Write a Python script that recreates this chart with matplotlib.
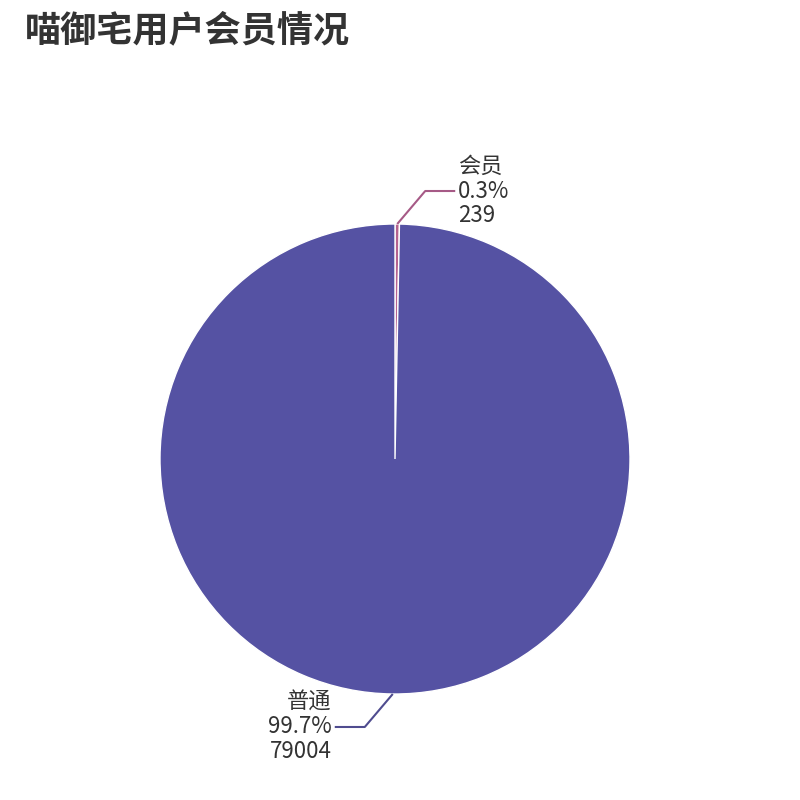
import numpy as np
import matplotlib
matplotlib.use('Agg')
import matplotlib.pyplot as plt

plt.rcParams['font.family'] = ['Noto Sans CJK SC', 'DejaVu Sans']

## data
names  = ['会员', '普通']
counts = [239, 79004]
colors = ['#b5628f', '#5552a3']
title  = '喵御宅用户会员情况'

total = sum(counts)
pcts  = [c / total * 100 for c in counts]

## figure in pixel coordinates (800x800)
fig = plt.figure(figsize=(8.0, 8.0), dpi=100)
ax = fig.add_axes([0, 0, 1, 1])
ax.set_aspect('equal')

cx, cy, R = 395, 341, 235
wedges, _ = ax.pie(counts, colors=colors, startangle=90, counterclock=False,
                   center=(cx, cy), radius=R, frame=True,
                   wedgeprops=dict(edgecolor='white', linewidth=1.0))
ax.set_xlim(0, 800)
ax.set_ylim(0, 800)
ax.axis('off')

## labels with elbow lines
for w, name, p, c, col in zip(wedges, names, pcts, counts, colors):
    mid = np.deg2rad((w.theta1 + w.theta2) / 2)
    ex, ey = cx + R * np.cos(mid), cy + R * np.sin(mid)
    sx = 1 if np.cos(mid) >= 0 else -1
    sy = 1 if np.sin(mid) >= 0 else -1
    bx, by = ex + sx * 28, ey + sy * 33
    tx = bx + sx * 30
    lc = '#a65a86' if name == '会员' else '#4f4c8f'
    ax.plot([ex, bx, tx], [ey, by, by], color=lc, lw=1.5, solid_capstyle='butt')
    txt = '%s\n%.1f%%\n%d' % (name, p, c)
    ax.text(tx + sx * 3, by, txt, ha='left' if sx > 0 else 'right',
            va='center', multialignment='left' if sx > 0 else 'right',
            fontsize=16, color='#333333', linespacing=1.1)

fig.text(25 / 800, 1 - 31 / 800, title, fontsize=26, fontweight='bold',
         color='#333333', ha='left', va='center')

fig.savefig('out.png', dpi=100, facecolor='white')
